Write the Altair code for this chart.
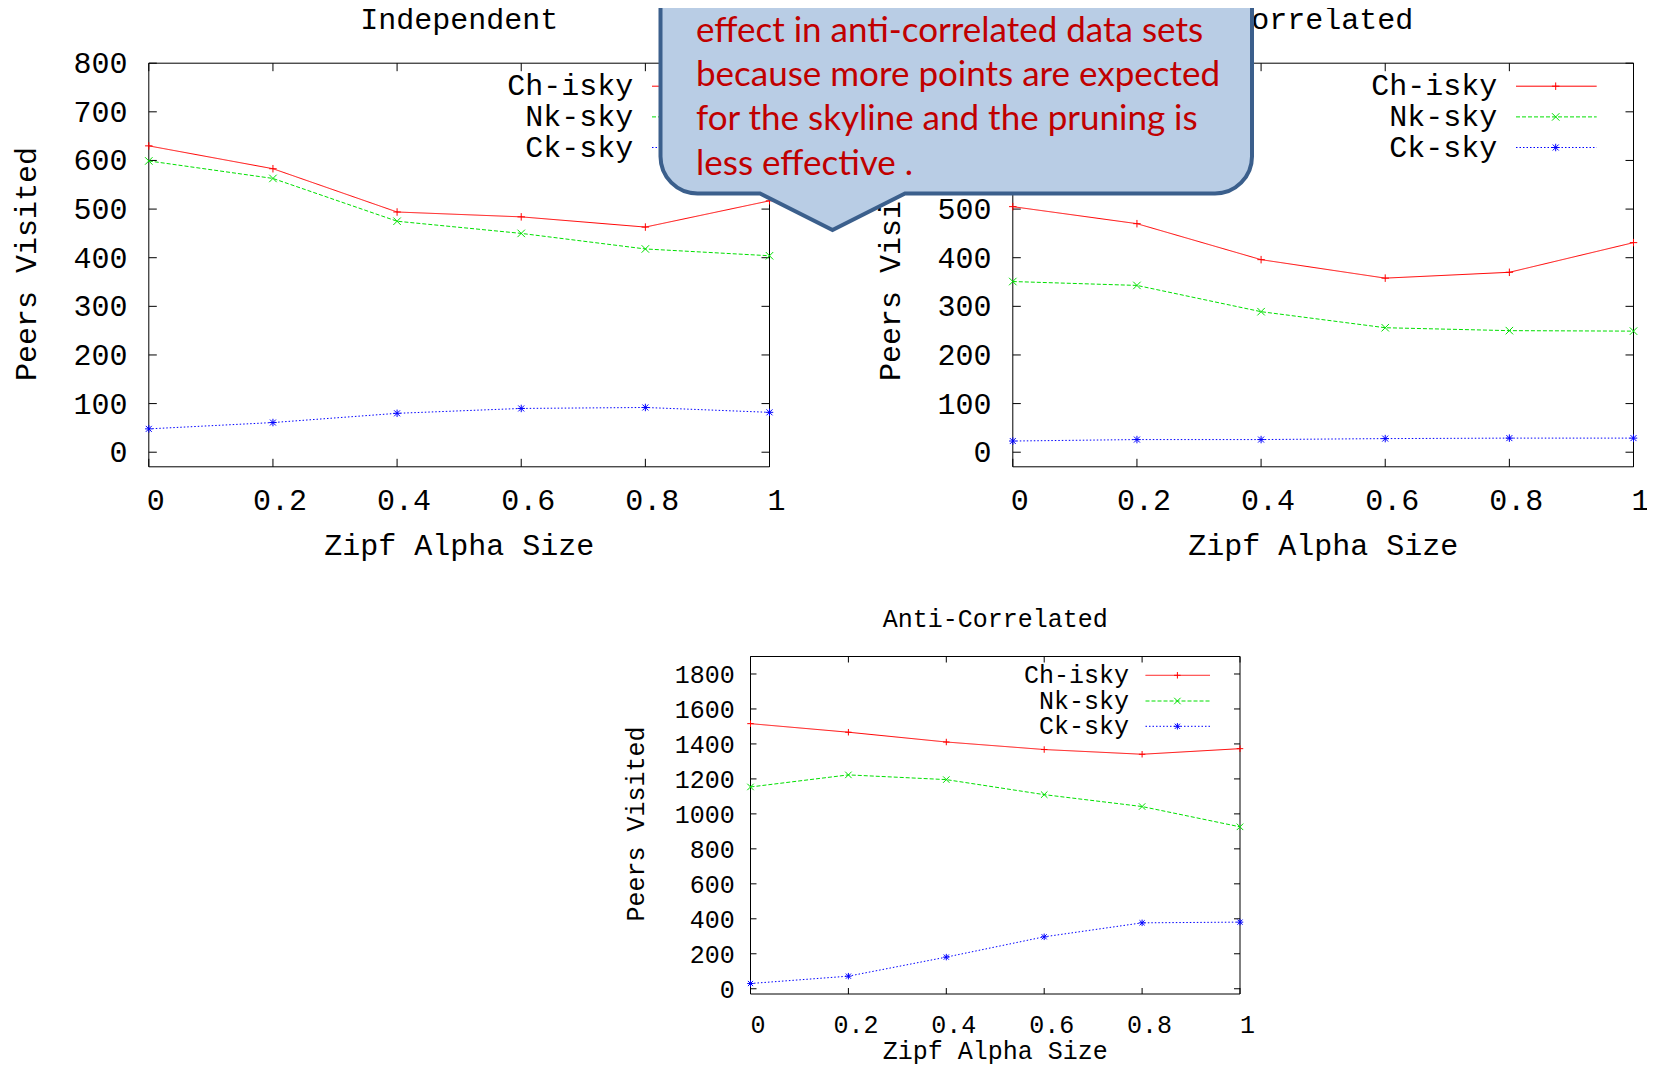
import altair as alt
import pandas as pd

# ---------------- data ----------------
alpha = [0.0, 0.2, 0.4, 0.6, 0.8, 1.0]
alpha_labels = ["0", "0.2", "0.4", "0.6", "0.8", "1"]
series_names = ["Ch-isky", "Nk-sky", "Ck-sky"]

ind_ch = [630, 583, 494, 484, 463, 517]
ind_nk = [599, 563, 475, 450, 418, 404]
ind_ck = [48, 61, 80, 90, 92, 82]

cor_ch = [505, 470, 396, 358, 370, 431]
cor_nk = [351, 343, 289, 256, 250, 249]
cor_ck = [23, 26, 26, 28, 29, 29]

anti_ch = [1516, 1467, 1411, 1368, 1341, 1373]
anti_nk = [1154, 1223, 1196, 1110, 1042, 926]
anti_ck = [30, 72, 181, 297, 377, 381]

yticks_small = [0, 100, 200, 300, 400, 500, 600, 700, 800]
yticks_big = [0, 200, 400, 600, 800, 1000, 1200, 1400, 1600, 1800]

x_title = "Zipf Alpha Size"
y_title = "Peers Visited"

callout_lines = [
    "effect in anti-correlated data sets",
    "because more points are expected",
    "for the skyline and the pruning is",
    "less effective .",
]

# ---------------- style ----------------
W, H = 1639, 1056
MONO = "Liberation Mono"
COLORS = ["#ff0000", "#00e000", "#0000ff"]
DASHES = [[1, 0], [4, 2], [1.5, 2]]
SHAPES = [
    "M-1,0L1,0M0,-1L0,1",
    "M-1,-1L1,1M-1,1L1,-1",
    "M-1,0L1,0M0,-1L0,1M-0.8,-0.8L0.8,0.8M-0.8,0.8L0.8,-0.8",
]


def txt(s, **kw):
    return alt.Chart(pd.DataFrame({"t": [s]})).mark_text(
        font=MONO, color="black", **kw)


def panel(title, vals, ydom, yticks, geom, fs, tl, msize, lab, leg, tit):
    L, R, T, B = geom
    xs = alt.Scale(domain=[0, 1], range=[L, R], nice=False, zero=False)
    ys = alt.Scale(domain=ydom, range=[B, T], nice=False, zero=False)
    X = lambda f: alt.X(f, scale=xs, axis=None)
    Y = lambda f: alt.Y(f, scale=ys, axis=None)
    layers = []

    # frame
    fdf = pd.DataFrame({"a": [0.0], "a2": [1.0], "v": [ydom[0]], "v2": [ydom[1]]})
    layers.append(
        alt.Chart(fdf).mark_rect(fillOpacity=0, stroke="black", strokeWidth=1).encode(
            x=X("a:Q"), x2="a2:Q", y=Y("v:Q"), y2="v2:Q"))

    # inward ticks on all four sides
    ydf = pd.DataFrame({"v": yticks, "lab": [str(t) for t in yticks]})
    xdf = pd.DataFrame({"a": alpha, "lab": alpha_labels})
    layers.append(alt.Chart(ydf).mark_rule(color="black", strokeWidth=1).encode(
        y=Y("v:Q"), x=alt.value(L), x2=alt.value(L + tl)))
    layers.append(alt.Chart(ydf).mark_rule(color="black", strokeWidth=1).encode(
        y=Y("v:Q"), x=alt.value(R), x2=alt.value(R - tl)))
    layers.append(alt.Chart(xdf).mark_rule(color="black", strokeWidth=1).encode(
        x=X("a:Q"), y=alt.value(B), y2=alt.value(B - tl)))
    layers.append(alt.Chart(xdf).mark_rule(color="black", strokeWidth=1).encode(
        x=X("a:Q"), y=alt.value(T), y2=alt.value(T + tl)))

    # tick labels (positioned by the scales)
    layers.append(alt.Chart(ydf).mark_text(
        font=MONO, fontSize=fs, color="black", align="right", baseline="middle",
        dy=lab["ydy"]).encode(
        y=Y("v:Q"), x=alt.value(L - lab["ypad"]), text="lab:N"))
    layers.append(alt.Chart(xdf).mark_text(
        font=MONO, fontSize=fs, color="black", align="center", baseline="middle",
        dx=lab["xdx"]).encode(
        x=X("a:Q"), y=alt.value(B + lab["xpad"]), text="lab:N"))

    # axis titles
    layers.append(txt(x_title, fontSize=fs, align="center", baseline="alphabetic").encode(
        text="t:N", x=alt.value((L + R) / 2), y=alt.value(B + lab["xty"])))
    layers.append(txt(y_title, fontSize=fs, align="center", baseline="alphabetic",
                      angle=270).encode(
        text="t:N", x=alt.value(L + lab["ytx"]), y=alt.value(lab["yty"])))

    # data
    for i, name in enumerate(series_names):
        df = pd.DataFrame({"a": alpha, "v": vals[i]})
        layers.append(alt.Chart(df).mark_line(
            color=COLORS[i], strokeDash=DASHES[i], strokeWidth=1).encode(
            x=X("a:Q"), y=Y("v:Q")))
        layers.append(alt.Chart(df).mark_point(
            shape=SHAPES[i], size=msize, filled=False, color=COLORS[i],
            strokeWidth=1, opacity=1).encode(x=X("a:Q"), y=Y("v:Q")))

    # key (top right, inside)
    one = pd.DataFrame({"k": [0]})
    for i, name in enumerate(series_names):
        yy = T + leg["rows"][i]
        layers.append(txt(name, fontSize=fs, align="right", baseline="middle").encode(
            text="t:N", x=alt.value(R - leg["text"]), y=alt.value(yy)))
        layers.append(alt.Chart(one).mark_rule(
            color=COLORS[i], strokeDash=DASHES[i], strokeWidth=1).encode(
            x=alt.value(R - leg["s0"]), x2=alt.value(R - leg["s1"]), y=alt.value(yy)))
        layers.append(alt.Chart(one).mark_point(
            shape=SHAPES[i], size=msize, filled=False, color=COLORS[i],
            strokeWidth=1, opacity=1).encode(
            x=alt.value(R - leg["m"]), y=alt.value(yy)))

    # panel title
    layers.append(txt(title, fontSize=fs, align="center", baseline="alphabetic").encode(
        text="t:N", x=alt.value((L + R) / 2), y=alt.value(tit)))
    return alt.layer(*layers)


lab12 = {"xpad": 34, "xdx": 7, "xty": 88, "ypad": 21.4, "ydy": 1,
         "ytx": -112.8, "yty": 256}
leg12 = {"text": 136.2, "s0": 117.5, "s1": 36.8, "m": 77.8, "rows": [23, 53.7, 84.3]}
lab3 = {"xpad": 31, "xdx": 7.5, "xty": 65, "ypad": 15.8, "ydy": 1,
        "ytx": -106.3, "yty": 816}
leg3 = {"text": 111, "s0": 94.5, "s1": 30, "m": 62.6, "rows": [18.8, 44.5, 69.8]}

p1 = panel("Independent", [ind_ch, ind_nk, ind_ck], [-30, 800], yticks_small,
           (140.8, 761.5, 55.2, 458.8), 30, 8, 56, lab12, leg12, 20.5)
p2 = panel("Correlated", [cor_ch, cor_nk, cor_ck], [-30, 800], yticks_small,
           (1004.8, 1625.5, 55.2, 458.8), 30, 8, 56, lab12, leg12, 20.5)
p3 = panel("Anti-Correlated", [anti_ch, anti_nk, anti_ck], [-30, 1900], yticks_big,
           (742.5, 1232, 648.5, 986), 25, 6, 42, lab3, leg3, 618.7)

# ---------------- callout bubble ----------------
cx, cy, unit = 800.0, 100.0, 100.0
c_left, c_right, c_top, c_bot, c_r = 652.5, 1244.0, -60.0, 185.5, 37.0
p_l, p_tx, p_ty, p_r = 752.0, 824.5, 222.0, 897.0


def u(x, y):
    return f"{(x - cx) / unit:.4f},{(y - cy) / unit:.4f}"


ru = c_r / unit
bubble_path = (
    f"M{u(c_left, c_top)}L{u(c_right, c_top)}L{u(c_right, c_bot - c_r)}"
    f"A{ru:.4f},{ru:.4f} 0 0 1 {u(c_right - c_r, c_bot)}"
    f"L{u(p_r, c_bot)}L{u(p_tx, p_ty)}L{u(p_l, c_bot)}L{u(c_left + c_r, c_bot)}"
    f"A{ru:.4f},{ru:.4f} 0 0 1 {u(c_left, c_bot - c_r)}Z"
)
one = pd.DataFrame({"k": [0]})
callout = [
    alt.Chart(one).mark_point(
        shape=bubble_path, size=(2 * unit) ** 2, filled=True, fill="#b9cde5",
        fillOpacity=1, stroke="#3b5f8c", strokeWidth=4, opacity=1).encode(
        x=alt.value(cx), y=alt.value(cy))
]
text_y = [33.7, 77.5, 122.0, 166.5]
for line, yy in zip(callout_lines, text_y):
    callout.append(alt.Chart(pd.DataFrame({"t": [line]})).mark_text(
        align="left", baseline="alphabetic", font="Lato", fontSize=35,
        color="#c00000").encode(text="t:N", x=alt.value(688), y=alt.value(yy)))

chart = alt.layer(p1, p2, p3, *callout).resolve_scale(
    x="independent", y="independent"
).properties(
    width=W, height=H, padding=0, autosize=alt.AutoSizeParams(type="none"),
    background="white",
).configure_view(strokeWidth=0)

chart.save("out.html", embed_options={"renderer": "svg", "actions": False})
